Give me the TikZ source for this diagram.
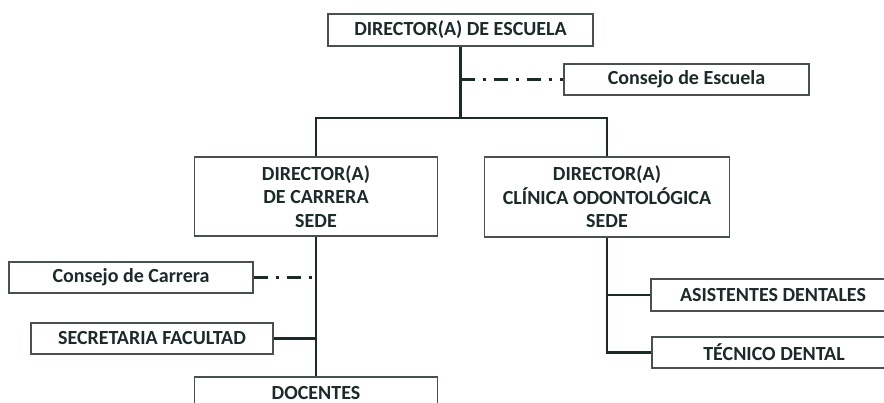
\documentclass[tikz,border=0pt]{standalone}
\usepackage{fontspec}
\setmainfont{Carlito}
\definecolor{lineCol}{HTML}{1C2A2A}
\definecolor{boxCol}{HTML}{4A4F4F}
\tikzset{
  unitBox/.style={draw=boxCol,line width=1.2pt,fill=white,text=lineCol,
    font=\fontsize{20}{23.5}\selectfont\bfseries,align=center,inner sep=0pt},
  solidLink/.style={draw=lineCol,line width=2.6pt},
  adviceLink/.style={draw=lineCol,line width=2.6pt,dash pattern=on 14pt off 8pt on 3pt off 8pt}
}
\begin{document}
\begin{tikzpicture}[x=1pt,y=-1pt]
\useasboundingbox (0,0) rectangle (884,403);
\clip (0,0) rectangle (884,403);

    \node[unitBox,minimum width=265pt,minimum height=32pt] (dirEscuela) at (460.5,30) {DIRECTOR(A) DE ESCUELA};
    \node[unitBox,minimum width=245pt,minimum height=31pt] (conEscuela) at (686.5,79.5) {Consejo de Escuela};
    \node[unitBox,minimum width=243pt,minimum height=79pt] (dirCarrera) at (316,196.5) {DIRECTOR(A)\\DE CARRERA\\SEDE};
    \node[unitBox,minimum width=245pt,minimum height=80pt] (dirClinica) at (607,197) {DIRECTOR(A)\\CLÍNICA ODONTOLÓGICA\\SEDE};
    \node[unitBox,minimum width=244pt,minimum height=31pt] (conCarrera) at (131,277.5) {Consejo de Carrera};
    \node[unitBox,minimum width=242pt,minimum height=31pt] (secretaria) at (152,338.5) {SECRETARIA FACULTAD};
    \node[unitBox,minimum width=243pt,minimum height=33pt] (docentes) at (316,393.5) {DOCENTES};
    \node[unitBox,minimum width=244pt,minimum height=32pt] (asistentes) at (773,295) {ASISTENTES DENTALES};
    \node[unitBox,minimum width=244pt,minimum height=31pt] (tecnico) at (774,352.5) {TÉCNICO DENTAL};

    \coordinate (bar) at (0,118);

    % escuela
    \draw[solidLink] (dirEscuela.south) -- (dirEscuela.south |- bar);
    \draw[solidLink] (dirCarrera.north) -- (dirCarrera.north |- bar) -- (dirClinica.north |- bar) -- (dirClinica.north);
    \draw[adviceLink] (conEscuela.west -| dirEscuela.south) -- (conEscuela.west);

    % carrera
    \draw[solidLink] (dirCarrera.south) -- (docentes.north);
    \draw[adviceLink] (conCarrera.east) -- (conCarrera.east -| dirCarrera.south);
    \draw[solidLink] (secretaria.east) -- (secretaria.east -| dirCarrera.south);

    % clinica
    \draw[solidLink] (dirClinica.south) |- (tecnico.west);
    \draw[solidLink] (asistentes.west) -- (asistentes.west -| dirClinica.south);

\end{tikzpicture}
\end{document}
